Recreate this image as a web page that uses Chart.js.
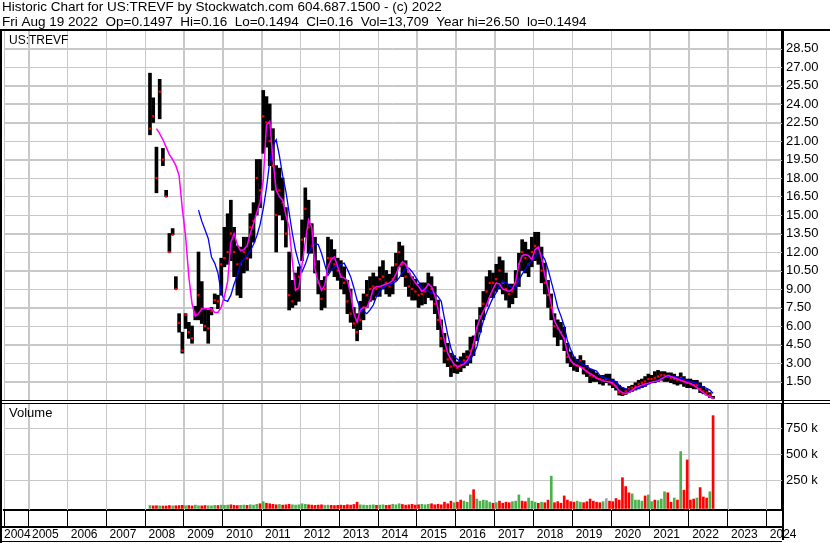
<!DOCTYPE html>
<html>
<head>
<meta charset="utf-8">
<script src="https://cdn.jsdelivr.net/npm/chart.js@4.4.1/dist/chart.umd.min.js"></script>
<style>
  html, body { margin: 0; padding: 0; background: #fff; }
  canvas { display: block; }
</style>
</head>
<body>
<canvas id="chart" width="830" height="543"></canvas>
<script>
// one entry per month, first entry = Jan 2008
const firstYear = 2008;

const high = [
  null, 26.5, 24.5, 20.5, 26.0, 20.4, 17.0, 13.5, 13.9, 10.0, 7.0, 5.5,
  7.0, 6.3, 6.0, 7.6, 12.0, 9.6, 7.4, 7.3, 7.5, 8.6, 8.5, 11.5,
  14.0, 15.1, 16.2, 14.0, 12.5, 12.4, 13.2, 13.2, 15.1, 16.0, 19.5, 19.5,
  25.1, 24.6, 24.0, 22.0, 19.0, 18.8, 18.0, 15.6, 12.0, 9.7, 10.3, 10.8,
  14.6, 17.2, 16.2, 14.3, 13.2, 11.3, 9.7, 10.0, 13.2, 13.0, 12.2, 11.5,
  11.3, 10.8, 9.7, 9.0, 7.5, 7.0, 8.0, 8.6, 9.7, 10.0, 10.3, 10.0,
  10.8, 11.3, 10.5, 10.2, 10.8, 11.9, 12.8, 12.5, 11.3, 10.3, 10.0, 9.8,
  9.4, 9.5, 9.5, 10.3, 10.0, 9.2, 8.1, 6.5, 5.4, 4.6, 3.8, 3.6,
  3.1, 3.5, 3.8, 4.0, 5.1, 5.2, 6.5, 7.5, 8.8, 10.0, 10.5, 10.3,
  11.0, 11.6, 11.3, 10.3, 9.4, 9.4, 10.5, 11.9, 13.0, 12.8, 12.2, 13.2,
  13.6, 13.6, 12.4, 11.1, 9.7, 8.6, 7.0, 6.5, 6.3, 5.9, 4.6, 3.9,
  3.5, 3.3, 3.6, 3.2, 2.8, 2.5, 2.4, 2.2, 2.0, 2.0, 2.1, 2.1,
  1.7, 1.5, 1.2, 1.0, 0.9, 1.1, 1.2, 1.4, 1.6, 1.7, 1.9, 2.1,
  2.0, 2.3, 2.4, 2.3, 2.3, 2.2, 2.2, 2.1, 1.9, 2.2, 1.9, 1.7,
  1.7, 1.6, 1.6, 1.4, 1.1, 0.85, 0.6, 0.3
];

const low = [
  null, 21.5, 22.5, 16.8, 22.8, 19.0, 16.5, 12.0, 13.4, 9.0, 5.5, 3.8,
  5.8, 5.0, 4.6, 6.5, 6.5, 6.2, 5.6, 4.6, 6.9, 7.8, 7.4, 8.5,
  10.8, 11.0, 11.3, 10.0, 8.5, 8.3, 10.3, 10.5, 11.5, 12.8, 15.0, 15.6,
  20.0, 20.5, 19.0, 17.0, 12.0, 15.0, 14.6, 12.4, 7.3, 7.5, 7.7, 8.0,
  11.3, 13.2, 11.9, 11.9, 10.3, 8.6, 7.3, 7.5, 10.3, 10.5, 10.0, 9.7,
  9.0, 8.6, 7.0, 6.3, 5.8, 4.8, 5.7, 6.5, 7.5, 8.0, 8.1, 8.4,
  8.4, 9.0, 8.6, 8.4, 8.6, 9.7, 10.8, 10.0, 9.2, 8.4, 8.1, 8.1,
  7.5, 7.7, 7.8, 8.3, 8.1, 7.0, 5.7, 4.3, 3.0, 2.7, 1.9, 2.2,
  2.15, 2.3, 2.6, 2.8, 3.0, 3.6, 4.8, 5.5, 6.5, 7.6, 8.3, 8.3,
  8.8, 9.0, 8.6, 8.1, 7.5, 7.8, 8.3, 9.2, 10.5, 10.3, 10.0, 10.8,
  11.3, 11.0, 9.5, 8.6, 7.5, 6.5, 5.1, 4.4, 4.9, 4.0, 3.0, 2.7,
  2.4, 2.3, 2.7, 2.1, 1.9, 1.4, 1.5, 1.5, 1.3, 1.2, 1.4, 1.2,
  1.0, 0.8, 0.4, 0.35, 0.45, 0.6, 0.7, 0.8, 0.9, 1.0, 1.1, 1.3,
  1.4, 1.4, 1.5, 1.6, 1.5, 1.5, 1.4, 1.3, 1.2, 1.3, 1.1, 1.0,
  1.0, 0.9, 0.9, 0.6, 0.5, 0.4, 0.2, 0.14
];

const close = [
  null, 22.0, 23.0, 18.0, 25.0, 19.5, 16.5, 12.0, 13.4, 9.0, 6.25, 4.0,
  6.9, 5.5, 5.0, 7.0, 8.5, 7.4, 6.0, 5.8, 7.2, 8.1, 8.0, 11.0,
  11.5, 12.0, 13.5, 12.0, 11.0, 11.0, 12.0, 11.5, 14.0, 14.5, 18.0, 17.0,
  23.0, 22.5, 21.0, 19.0, 15.0, 17.0, 16.0, 13.5, 8.5, 8.0, 9.0, 10.0,
  13.0, 15.5, 14.0, 12.5, 11.0, 9.5, 8.2, 9.0, 11.5, 11.5, 11.0, 10.5,
  10.0, 9.5, 8.0, 7.0, 6.2, 5.5, 6.5, 7.5, 8.5, 9.0, 9.2, 9.0,
  9.8, 10.0, 9.5, 9.2, 9.8, 11.0, 12.0, 11.0, 10.0, 9.2, 9.0, 8.8,
  8.5, 8.6, 8.8, 9.4, 9.0, 7.8, 6.5, 5.0, 4.0, 3.3, 2.7, 2.8,
  2.6, 2.8, 3.2, 3.5, 4.0, 4.5, 5.8, 6.8, 7.8, 8.8, 9.5, 9.5,
  9.8, 10.5, 9.5, 9.0, 8.6, 8.8, 9.5, 11.0, 12.0, 11.5, 11.0, 12.0,
  12.5, 12.3, 10.5, 9.5, 8.5, 7.5, 6.0, 5.8, 5.5, 5.0, 3.5, 3.2,
  2.9, 2.8, 3.2, 2.6, 2.3, 2.0, 1.9, 1.8, 1.7, 1.6, 1.7, 1.5,
  1.3, 1.1, 0.6, 0.5, 0.7, 0.9, 1.0, 1.1, 1.3, 1.4, 1.5, 1.7,
  1.7, 1.8, 1.9, 2.0, 2.0, 1.9, 1.8, 1.7, 1.6, 1.8, 1.5, 1.4,
  1.3, 1.2, 1.2, 0.9, 0.7, 0.6, 0.4, 0.16
];

// magenta (short) and blue (long) moving averages as drawn
const avgShort = [
  null, null, null, 22.0, 21.6, 21.1, 20.5, 19.9, 19.5, 19.0, 18.2, 15.5,
  13.3, 10.0, 7.8, 6.8, 7.0, 7.4, 7.4, 7.4, 7.4, 7.1, 7.1, 7.5,
  8.4, 9.6, 12.8, 13.5, 12.6, 12.1, 12.2, 12.5, 13.5, 14.3, 15.2, 16.0,
  17.8, 22.3, 22.6, 19.5, 17.0, 16.5, 16.2, 15.0, 14.0, 11.2, 8.9, 9.1,
  11.0, 12.8, 14.6, 14.0, 10.6, 9.6, 8.9, 9.3, 10.8, 11.4, 11.6, 10.8,
  10.0, 9.9, 9.7, 8.6, 7.0, 6.3, 7.3, 7.5, 7.5, 8.1, 9.0, 9.2,
  9.2, 9.3, 9.4, 9.5, 9.7, 10.2, 10.8, 11.2, 11.0, 10.4, 9.9, 9.5,
  9.2, 8.8, 9.0, 9.4, 9.2, 8.5, 7.4, 6.1, 4.8, 3.8, 3.3, 2.9,
  2.7, 2.8, 2.9, 3.2, 3.7, 4.6, 5.9, 6.6, 7.2, 7.7, 8.4, 9.0,
  9.5, 9.4, 9.0, 8.9, 8.8, 9.0, 9.6, 11.0, 11.7, 11.8, 11.7, 11.4,
  12.2, 12.4, 11.5, 10.1, 9.1, 7.8, 6.4, 5.9, 5.4, 5.0, 3.8, 3.2,
  2.9, 2.8, 2.7, 2.5, 2.3, 2.15, 2.0, 1.8, 1.65, 1.55, 1.5, 1.45,
  1.38, 1.1, 0.75, 0.6, 0.52, 0.6, 0.8, 1.0, 1.1, 1.2, 1.3, 1.37,
  1.45, 1.5, 1.55, 1.7, 1.85, 2.0, 1.9, 1.8, 1.7, 1.6, 1.5, 1.4,
  1.35, 1.2, 1.0, 0.8, 0.6, 0.4, 0.26, 0.13
];

const avgLong = [
  null, null, null, null, null, null, null, null, null, null, null, null,
  null, null, null, null, 15.4, 14.5, 13.8, 13.1, 11.6, 11.1, 10.3, 8.7,
  8.1, 8.0, 8.5, 9.4, 10.1, 11.1, 11.4, 11.7, 12.1, 12.6, 13.3, 14.2,
  15.5, 17.2, 19.3, 20.6, 21.1, 19.8, 18.2, 16.9, 15.2, 13.5, 12.1, 11.1,
  10.4, 11.0, 11.8, 12.5, 12.7, 12.6, 11.9, 11.0, 10.1, 10.5, 10.8, 10.9,
  11.0, 11.1, 10.6, 10.0, 9.1, 8.1, 7.4, 7.2, 7.0, 7.3, 7.7, 8.4,
  8.8, 9.1, 9.3, 9.35, 9.5, 9.6, 9.9, 10.3, 10.7, 10.7, 10.4, 10.0,
  9.6, 9.1, 9.0, 8.8, 8.7, 8.6, 8.4, 8.0, 6.6, 5.3, 4.2, 3.5,
  3.3, 3.1, 3.05, 3.0, 3.3, 3.7, 4.3, 5.4, 6.4, 7.1, 7.7, 8.3,
  8.7, 9.3, 9.6, 9.5, 9.3, 9.0, 9.1, 9.7, 10.2, 10.6, 11.0, 11.3,
  11.6, 11.9, 11.8, 11.4, 10.6, 9.6, 8.6, 7.5, 6.8, 6.0, 4.8, 4.1,
  3.5, 3.2, 3.0, 2.85, 2.7, 2.55, 2.45, 2.35, 2.0, 1.85, 1.75, 1.65,
  1.6, 1.5, 1.2, 1.0, 0.9, 0.8, 0.82, 0.88, 0.95, 1.05, 1.15, 1.3,
  1.4, 1.5, 1.6, 1.75, 1.88, 1.9, 1.9, 1.9, 1.8, 1.75, 1.7, 1.6,
  1.5, 1.45, 1.35, 1.2, 1.05, 0.95, 0.8, 0.55
];

// volume in thousands of shares
const volume = [
  null, 8, 5, 6, 5, 3, 4, 8, 5, 6, 8, 10,
  6, 8, 5, 12, 6, 5, 8, 6, 5, 10, 8, 12,
  10, 12, 15, 10, 8, 10, 12, 10, 15, 12, 20, 25,
  45, 30, 25, 20, 15, 18, 12, 15, 20, 15, 12, 15,
  25, 20, 15, 12, 10, 12, 15, 10, 12, 10, 8, 10,
  12, 10, 15, 12, 18, 40, 15, 12, 10, 12, 15, 10,
  12, 15, 10, 12, 20, 15, 25, 18, 12, 15, 20, 12,
  15, 20, 15, 20, 25, 15, 20, 15, 40, 25, 50, 35,
  40, 60, 50, 40, 110, 160, 70, 50, 60, 55, 40, 30,
  35, 50, 30, 40, 35, 45, 50, 110, 50, 45, 80, 50,
  40, 30, 40, 35, 60, 290, 35, 45, 30, 100, 60, 45,
  40, 50, 40, 35, 45, 70, 50, 40, 35, 45, 75, 50,
  45, 75, 60, 275, 190, 130, 120, 60, 60, 50, 100, 110,
  45, 60, 55, 70, 140, 130, 40, 80, 60, 525, 155, 445,
  60, 70, 80, 180, 90, 80, 140, 870
];
// u = up day, d = down day, n = unchanged
const volumeDir = ("dudd uddd uddd  uddu uddu uudu  uudd duud uuud  uddd dudd duuu " +
  "uudd dddu uddd  dddd dduu uuud  uudd uuud dddd  duuu dddd dddu " +
  "dduu uduu uuud  uddd duuu dduu  udud dudd dddd  duud dddd dund " +
  "dddd dduu uudu  uduu uddu dudd  ddud ddud").replace(/ /g, "");

const yearTicks = [2005, 2006, 2007, 2008, 2009, 2010, 2011, 2012, 2013, 2014,
  2015, 2016, 2017, 2018, 2019, 2020, 2021, 2022, 2023, 2024];
const priceTicks = [1.5, 3, 4.5, 6, 7.5, 9, 10.5, 12, 13.5, 15, 16.5, 18, 19.5,
  21, 22.5, 24, 25.5, 27, 28.5];
const volumeTicks = [250, 500, 750];

const headerLines = [
  "Historic Chart for US:TREVF by Stockwatch.com 604.687.1500 - (c) 2022",
  "Fri Aug 19 2022  Op=0.1497  Hi=0.16  Lo=0.1494  Cl=0.16  Vol=13,709  Year hi=26.50  lo=0.1494"
];

const xMin = 2004.366;
const xMax = 2024.40;
const FONT = 'Arial, "Liberation Sans", sans-serif';

const monthX = i => firstYear + (i + 0.5) / 12;
const pts = arr => arr.map((v, i) => ({ x: monthX(i), y: v }));

const rangeBars = high.map((h, i) => ({ x: monthX(i), y: h == null ? null : [low[i], h] }));
const volColor = { u: "#4cb04c", d: "#ff0000", n: "#a0a0a0" };

Chart.defaults.font.family = FONT;
Chart.defaults.color = "#000";

// light grey grid under the data, one line per axis tick
const gridPlugin = {
  id: "panelGrid",
  beforeDatasetsDraw(chart) {
    const ctx = chart.ctx;
    const a = chart.chartArea;
    const s = chart.scales;
    ctx.save();
    ctx.strokeStyle = "#c8c8c8";
    ctx.lineWidth = 1;
    ctx.beginPath();
    yearTicks.forEach(v => {
      const x = Math.round(s.x.getPixelForValue(v)) + 0.5;
      ctx.moveTo(x, a.top);
      ctx.lineTo(x, a.bottom);
    });
    priceTicks.forEach(v => {
      const y = Math.round(s.y.getPixelForValue(v)) + 0.5;
      ctx.moveTo(a.left, y);
      ctx.lineTo(a.right, y);
    });
    volumeTicks.forEach(v => {
      const y = Math.round(s.yv.getPixelForValue(v)) + 0.5;
      ctx.moveTo(a.left, y);
      ctx.lineTo(a.right, y);
    });
    ctx.stroke();
    ctx.restore();
  }
};

// frame lines and panel captions
const framePlugin = {
  id: "frame",
  afterDraw(chart) {
    const ctx = chart.ctx;
    const a = chart.chartArea;
    const py = chart.scales.y;
    const xs = chart.scales.x;
    const W = chart.width, H = chart.height;
    ctx.save();
    ctx.fillStyle = "#fff";
    ctx.fillRect(0, py.bottom, W, 3);
    ctx.fillStyle = "#000";
    ctx.fillRect(0, a.top - 1, W, 2);
    ctx.fillRect(0, a.top, 2, H - a.top);
    ctx.fillRect(0, py.bottom, W, 1);
    ctx.fillRect(0, py.bottom + 3, W, 1);
    ctx.fillRect(a.right, a.top, 2, H - a.top - 3);
    ctx.fillRect(0, xs.top + 16, a.right, 2);
    ctx.fillRect(0, H - 2, a.right, 1);

    ctx.textBaseline = "middle";
    ctx.textAlign = "left";
    ctx.font = "12px " + FONT;
    ctx.fillText("US:TREVF", 9, a.top + 11);
    ctx.font = "13px " + FONT;
    ctx.fillText("Volume", 9, py.bottom + 13);
    ctx.restore();
  }
};

new Chart(document.getElementById("chart"), {
  type: "bar",
  data: {
    datasets: [
      {
        type: "line",
        data: pts(avgShort),
        yAxisID: "y",
        borderColor: "#ff00ff",
        borderWidth: 1.5,
        pointRadius: 0,
        tension: 0
      },
      {
        type: "line",
        data: pts(avgLong),
        yAxisID: "y",
        borderColor: "#0000ff",
        borderWidth: 1.3,
        pointRadius: 0,
        tension: 0
      },
      {
        type: "scatter",
        data: pts(close),
        yAxisID: "y",
        pointStyle: "rect",
        pointRadius: 1.6,
        pointBorderWidth: 0,
        backgroundColor: "#ff0000",
        borderColor: "#ff0000"
      },
      {
        type: "bar",
        data: rangeBars,
        yAxisID: "y",
        backgroundColor: "#000",
        barThickness: 3,
        grouped: false,
        borderWidth: 0
      },
      {
        type: "bar",
        data: pts(volume),
        yAxisID: "yv",
        backgroundColor: volume.map((v, i) => volColor[volumeDir[i]]),
        barThickness: 2,
        grouped: false,
        base: -20,
        borderWidth: 0
      }
    ]
  },
  options: {
    responsive: false,
    animation: false,
    events: [],
    layout: { padding: { left: 2, right: 0, top: 0, bottom: 1 } },
    plugins: {
      legend: { display: false },
      tooltip: { enabled: false },
      title: {
        display: true,
        text: headerLines,
        align: "start",
        color: "#000",
        font: { family: FONT, size: 13.5, weight: "normal", lineHeight: 15 / 13.5 },
        padding: { top: 0, bottom: 0 }
      }
    },
    scales: {
      x: {
        type: "linear",
        position: "bottom",
        min: xMin,
        max: xMax,
        offset: false,
        afterBuildTicks: s => { s.ticks = [xMin, ...yearTicks].map(v => ({ value: v })); },
        afterFit: s => { s.height = 32; },
        grid: { color: "#c8c8c8", tickColor: "#000", tickLength: 16, lineWidth: 1, offset: false },
        border: { display: true, color: "#000", width: 2 },
        ticks: {
          autoSkip: false,
          maxRotation: 0,
          align: "start",
          padding: 1,
          color: "#000",
          font: { size: 12 },
          callback: v => v === xMin ? "2004" : " " + v
        }
      },
      y: {
        type: "linear",
        position: "right",
        stack: "panels",
        stackWeight: 370,
        min: 0,
        max: 30,
        afterBuildTicks: s => { s.ticks = priceTicks.map(v => ({ value: v })); },
        afterFit: s => { s.width = 48; },
        grid: { color: "#c8c8c8", drawTicks: false, lineWidth: 1 },
        border: { display: true, color: "#000", width: 2 },
        ticks: {
          autoSkip: false,
          padding: 4,
          color: "#000",
          font: { size: 13 },
          callback: v => v.toFixed(2)
        }
      },
      yv: {
        type: "linear",
        position: "right",
        stack: "panels",
        stackWeight: 110,
        min: -35,
        max: 1020,
        afterBuildTicks: s => { s.ticks = volumeTicks.map(v => ({ value: v })); },
        afterFit: s => { s.width = 48; },
        grid: { color: "#c8c8c8", drawTicks: false, lineWidth: 1 },
        border: { display: true, color: "#000", width: 2 },
        ticks: {
          autoSkip: false,
          padding: 4,
          color: "#000",
          font: { size: 13 },
          callback: v => v + " k"
        }
      }
    }
  },
  plugins: [gridPlugin, framePlugin]
});
</script>
</body>
</html>
